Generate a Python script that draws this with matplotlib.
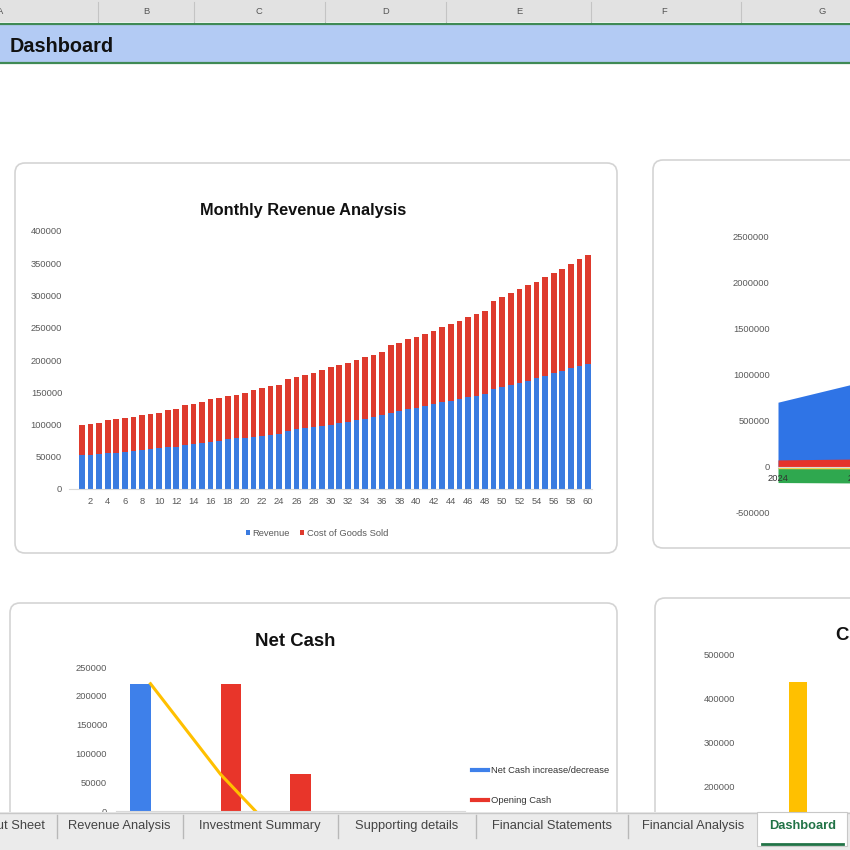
import matplotlib
matplotlib.use("Agg")

import matplotlib.pyplot as plt
from matplotlib import font_manager, ticker
from matplotlib.patches import FancyBboxPatch, Rectangle
from matplotlib.lines import Line2D
import numpy as np

# ---- data ----
months = list(range(1, 61))
revenue = [52700, 53200, 54200, 55300, 56300, 57800, 59000, 59800, 61500, 63000,
           64800, 65800, 67700, 69700, 71800, 73300, 74900, 77000, 78300, 79500,
           80600, 82200, 83700, 86000, 90400, 92500, 94300, 96000, 98000, 100000,
           102000, 104500, 107000, 108700, 111500, 114000, 118500, 121000, 123700, 126000,
           128700, 131300, 134400, 136900, 139500, 142100, 144600, 147300, 154500, 157600,
           161200, 164800, 167900, 171600, 175200, 179300, 182900, 187100, 190700, 193800]
cogs = [46500, 47500, 48600, 51700, 52200, 51800, 52100, 54900, 54800, 55300,
        57200, 57700, 62500, 62100, 63500, 65700, 65700, 67200, 67400, 69800,
        72800, 74800, 75900, 75700, 80100, 81600, 82400, 84300, 86400, 88600,
        90200, 91300, 93000, 95400, 96200, 97900, 104700, 105800, 108300, 110100,
        111000, 114100, 116200, 118800, 121400, 124000, 126600, 129100, 136900, 139500,
        143100, 144700, 148300, 149700, 152900, 155000, 158600, 161600, 165300, 168900]

years = ["2024", "2025", "2026", "2027", "2028"]
area_blue = [700000, 910000, 1130000, 1380000, 1650000]
area_red = [75000, 85000, 100000, 115000, 130000]
area_green = [-170000, -175000, -180000, -190000, -200000]
area_yellow = [-20000, -22000, -25000, -28000, -30000]

net_change = [221000, -157000, -128000, -90000, -60000]
opening_cash = [0, 221000, 64000, -64000, -154000]
closing_cash = [221000, 64000, -64000, -154000, -214000]

cash_balance = [439000, 300000, 250000, 380000, 460000]

tabs = ["Input Sheet", "Revenue Analysis", "Investment Summary", "Supporting details",
        "Financial Statements", "Financial Analysis"]
col_letters = ["A", "B", "C", "D", "E", "F", "G"]

# ---- fonts ----
names = {f.name for f in font_manager.fontManager.ttflist}
if "Liberation Sans Narrow" in names:
    FONT, K = "Liberation Sans Narrow", 1.0
else:
    FONT, K = "Liberation Sans", 0.84
plt.rcParams["font.family"] = FONT

W = H = 850
GRAY = "#595959"
fig = plt.figure(figsize=(8.5, 8.5), dpi=100)
fig.patch.set_facecolor("white")


def box(x0, y0, x1, y1):
    return [x0 / W, 1 - y1 / H, (x1 - x0) / W, (y1 - y0) / H]


def rect(x0, y0, x1, y1, **kw):
    fig.add_artist(Rectangle((x0 / W, 1 - y1 / H), (x1 - x0) / W, (y1 - y0) / H,
                             transform=fig.transFigure, **kw))


def line(x0, y0, x1, y1, **kw):
    fig.add_artist(Line2D([x0 / W, x1 / W], [1 - y0 / H, 1 - y1 / H],
                          transform=fig.transFigure, **kw))


def text(x, y, s, size, **kw):
    fig.text(x / W, 1 - y / H, s, fontsize=size * K, **kw)


def card(x0, y0, x1, y1):
    fig.add_artist(FancyBboxPatch((x0 / W, 1 - y1 / H), (x1 - x0) / W, (y1 - y0) / H,
                                  boxstyle=f"round,pad=0,rounding_size={10 / W}",
                                  transform=fig.transFigure, fc="white", ec="#d4d4d4",
                                  lw=1.2, zorder=-5))


def clean(ax, ypad):
    ax.set_facecolor("none")
    for s in ["top", "right", "left"]:
        ax.spines[s].set_visible(False)
    ax.spines["bottom"].set_color("#d9d9d9")
    ax.tick_params(length=0, labelsize=8 * K, labelcolor=GRAY)
    ax.tick_params(axis="y", pad=ypad)
    ax.yaxis.set_major_formatter(ticker.FuncFormatter(lambda v, p: f"{v:.0f}"))


# ---- sheet chrome ----
rect(0, 0, 850, 22, fc="#e2e2e2", ec="none", zorder=-8)
for x in [98, 194, 325, 446, 591, 741]:
    line(x, 2, x, 22, color="#c4c4c4", lw=0.8, zorder=-7)
for x, c in zip([0, 146, 259, 386, 519, 664, 822], col_letters):
    text(x, 12, c, 8, color="#555555", ha="center", va="center")
rect(0, 24, 850, 63, fc="#b3cbf4", ec="none", zorder=-8)
line(0, 24, 850, 24, color="#3f8a55", lw=1.6, zorder=-7)
line(0, 63, 850, 63, color="#3f8a55", lw=1.6, zorder=-7)
text(10, 46, "Dashboard", 17, weight="bold", color="#111111", va="center")

card(15, 163, 617, 553)
card(653, 160, 1000, 548)
card(10, 603, 617, 900)
card(655, 598, 1000, 900)

# ---- Monthly Revenue Analysis ----
ax1 = fig.add_axes(box(69.1, 231, 592.3, 489))
b1 = ax1.bar(months, revenue, width=0.66, color="#3a7be0", label="Revenue")
b2 = ax1.bar(months, cogs, width=0.66, bottom=revenue, color="#de3a2d", label="Cost of Goods Sold")
ax1.set_xlim(-0.5, 60.5)
ax1.set_ylim(0, 400000)
ax1.set_yticks(np.arange(0, 400001, 50000))
ax1.set_xticks(range(2, 61, 2))
clean(ax1, 5)
ax1.tick_params(axis="x", pad=6)
ax1.legend(handles=[b1, b2], loc="center", bbox_to_anchor=(317 / W, 1 - 533 / H),
           bbox_transform=fig.transFigure, ncol=2, frameon=False, fontsize=8 * K,
           handlelength=0.4, handleheight=0.4, handletextpad=0.3, columnspacing=1.1,
           labelcolor=GRAY)
text(303, 210, "Monthly Revenue Analysis", 14, weight="bold", color="#111111",
     ha="center", va="center")

# ---- area chart (right, cut off) ----
ax2 = fig.add_axes(box(778, 236, 1098, 513))
xs = np.arange(len(years))
ax2.fill_between(xs, 0, area_blue, color="#2f74e6", lw=0)
ax2.fill_between(xs, 0, area_red, color="#e5332a", lw=0)
ax2.fill_between(xs, 0, area_green, color="#2fa84f", lw=0)
ax2.fill_between(xs, 0, area_yellow, color="#f7d04a", lw=0)
ax2.set_xlim(0, len(years) - 1)
ax2.set_ylim(-500000, 2500000)
ax2.set_yticks(np.arange(-500000, 2500001, 500000))
ax2.set_xticks(xs[:2], years[:2])
clean(ax2, 6)
ax2.spines["bottom"].set_position(("data", 0))
ax2.tick_params(axis="x", pad=5, labelcolor="#333333")

# ---- Net Cash ----
ax3 = fig.add_axes(box(115.5, 667, 465.5, 926.4))
pos = np.arange(len(years))
ax3.bar(pos - 0.143, net_change, width=0.286, color="#3e80ea")
ax3.bar(pos + 0.143, opening_cash, width=0.286, color="#e8352a")
ax3.plot(pos, closing_cash, color="#ffc000", lw=2.2)
ax3.set_xlim(-0.5, len(years) - 0.5)
ax3.set_ylim(-200000, 250000)
ax3.set_yticks(np.arange(0, 250001, 50000))
ax3.set_xticks([])
clean(ax3, 6)
ax3.spines["bottom"].set_position(("data", 0))
handles = [Line2D([], [], color="#3e80ea", lw=3),
           Line2D([], [], color="#e8352a", lw=3)]
ax3.legend(handles, ["Net Cash increase/decrease", "Opening Cash"],
           loc="upper left", bbox_to_anchor=(464 / W, 1 - 758 / H),
           bbox_transform=fig.transFigure, frameon=False, fontsize=8 * K,
           handlelength=1.7, handletextpad=0.3, labelspacing=2.2, labelcolor="#333333")
text(295, 641, "Net Cash", 16, weight="bold", color="#111111", ha="center", va="center")

# ---- Cash chart (cut off) ----
ax4 = fig.add_axes(box(745, 655, 1275, 873.5))
ax4.bar(np.arange(len(years)), cash_balance, width=0.17, color="#ffc000")
ax4.set_xlim(-0.5, len(years) - 0.5)
ax4.set_ylim(0, 500000)
ax4.set_yticks(np.arange(200000, 500001, 100000))
clean(ax4, 7)
ax4.set_xticks([])
text(836, 636, "Cash Balance", 16, weight="bold", color="#111111", va="center")

# ---- sheet tabs ----
rect(0, 812, 850, 850, fc="#ebebeb", ec="none", zorder=10)
line(0, 812.5, 850, 812.5, color="#c8c8c8", lw=1, zorder=11)
text(45, 826, tabs[0], 11, color="#444444", ha="right", va="center", zorder=12)
for cx, t in zip([119, 260, 407, 552, 693.5], tabs[1:]):
    text(cx, 826, t, 11, color="#444444", ha="center", va="center", zorder=12)
for x in [57, 183, 338, 476, 628]:
    line(x, 815, x, 838, color="#b8b8b8", lw=1, zorder=11)
rect(757, 812, 847, 846, fc="white", ec="#c8c8c8", lw=0.8, zorder=11)
line(762, 844, 843, 844, color="#217346", lw=2, zorder=12)
text(802.5, 826, "Dashboard", 11, weight="bold", color="#217346", ha="center",
     va="center", zorder=12)

fig.savefig("out.png", dpi=100)
